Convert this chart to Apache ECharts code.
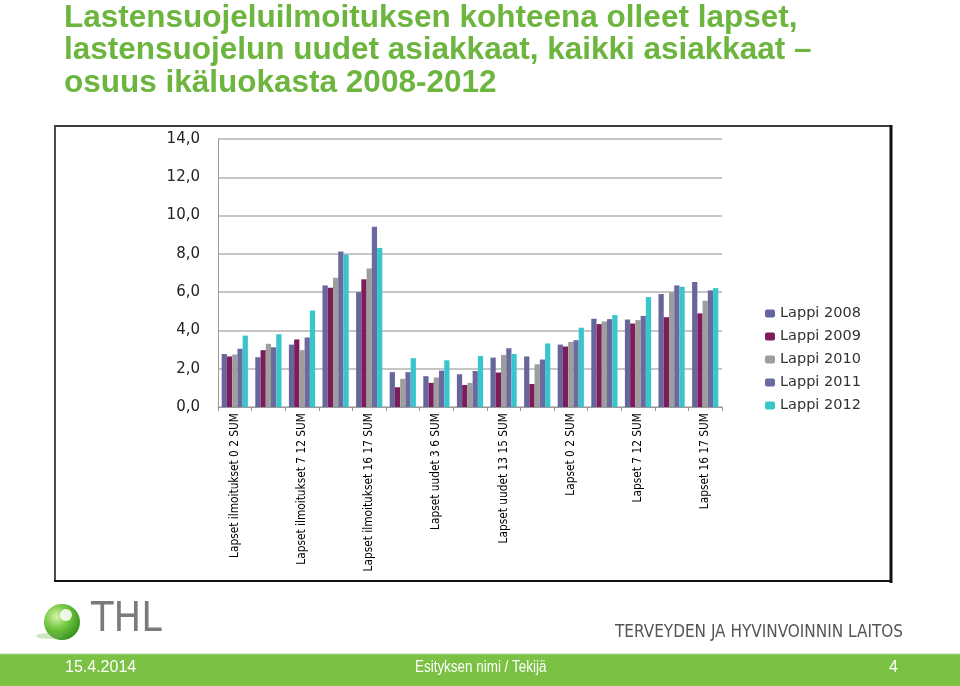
<!DOCTYPE html>
<html>
<head>
<meta charset="utf-8">
<script src="https://cdn.jsdelivr.net/npm/echarts@6/dist/echarts.min.js"></script>
<style>
html,body{margin:0;padding:0;background:#fff;}
#c{width:960px;height:686px;}
</style>
</head>
<body>
<div id="c"></div>
<script>
var categories = [
  'Lapset ilmoitukset 0 2 SUM','Lapset ilmoitukset 3 6 SUM','Lapset ilmoitukset 7 12 SUM',
  'Lapset ilmoitukset 13 15 SUM','Lapset ilmoitukset 16 17 SUM',
  'Lapset uudet 0 2 SUM','Lapset uudet 3 6 SUM','Lapset uudet 7 12 SUM',
  'Lapset uudet 13 15 SUM','Lapset uudet 16 17 SUM',
  'Lapset 0 2 SUM','Lapset 3 6 SUM','Lapset 7 12 SUM','Lapset 13 15 SUM','Lapset 16 17 SUM'
];
var seriesNames = ['Lappi 2008','Lappi 2009','Lappi 2010','Lappi 2011','Lappi 2012'];
var lappi2008 = [2.77, 2.60, 3.26, 6.35, 6.00, 1.82, 1.61, 1.71, 2.58, 2.64, 3.26, 4.61, 4.57, 5.90, 6.53];
var lappi2009 = [2.64, 2.97, 3.53, 6.23, 6.67, 1.03, 1.26, 1.15, 1.80, 1.20, 3.16, 4.33, 4.36, 4.69, 4.89];
var lappi2010 = [2.74, 3.30, 2.97, 6.75, 7.24, 1.47, 1.54, 1.26, 2.72, 2.23, 3.40, 4.47, 4.54, 6.00, 5.55];
var lappi2011 = [3.04, 3.12, 3.63, 8.12, 9.42, 1.82, 1.90, 1.88, 3.07, 2.48, 3.49, 4.59, 4.76, 6.35, 6.09];
var lappi2012 = [3.73, 3.80, 5.04, 7.96, 8.31, 2.55, 2.44, 2.67, 2.77, 3.32, 4.14, 4.80, 5.74, 6.28, 6.21];
var yTicks = [0, 2, 4, 6, 8, 10, 12, 14];

var colors = ['#66669c', '#7c1c5b', '#9e9e9e', '#6a6a9e', '#38c6cc'];
var allData = [lappi2008, lappi2009, lappi2010, lappi2011, lappi2012];

var chart = echarts.init(document.getElementById('c'), null, {renderer: 'canvas'});

var series = seriesNames.map(function (n, i) {
  return {
    name: n, type: 'bar', data: allData[i],
    barGap: '0%', barCategoryGap: '22%',
    itemStyle: {color: colors[i]}
  };
});

var option = {
  animation: false,
  backgroundColor: '#ffffff',
  title: {
    text: 'Lastensuojeluilmoituksen kohteena olleet lapset,\nlastensuojelun uudet asiakkaat, kaikki asiakkaat \u2013\nosuus ik\u00e4luokasta 2008-2012',
    left: 59, top: -3,
    textStyle: {
      fontFamily: 'Liberation Sans, Arial, sans-serif', fontSize: 31.5, fontWeight: 'bold',
      color: '#6cb53f', lineHeight: 32.5
    }
  },
  legend: {
    orient: 'vertical', left: 760, top: 301,
    itemWidth: 10, itemHeight: 8, itemGap: 8,
    data: seriesNames,
    textStyle: {fontFamily: 'DejaVu Sans, sans-serif', fontSize: 14.5, color: '#333', lineHeight: 15}
  },
  grid: {left: 218, right: 238, top: 139, bottom: 279, containLabel: false},
  xAxis: {
    type: 'category', data: categories,
    axisLine: {show: true, lineStyle: {color: '#9a9a9a', width: 1}},
    axisTick: {show: true, interval: 0, length: 4, lineStyle: {color: '#9a9a9a'}},
    axisLabel: {
      interval: 1, rotate: 90, margin: 6,
      fontFamily: 'Liberation Sans Narrow, DejaVu Sans Condensed, sans-serif', fontSize: 11.8, color: '#000'
    }
  },
  yAxis: {
    type: 'value', min: 0, max: 14, interval: 2,
    axisLine: {show: true, lineStyle: {color: '#9a9a9a', width: 1}},
    axisTick: {show: false},
    splitLine: {lineStyle: {color: '#b3b3b3', width: 1.5}},
    axisLabel: {
      margin: 18, color: '#222', fontFamily: 'DejaVu Sans, sans-serif', fontSize: 15,
      formatter: function (v) { return v.toFixed(1).replace('.', ','); }
    }
  },
  series: series,
  graphic: [
    // chart frame
    {type: 'line', shape: {x1: 54, y1: 126, x2: 892, y2: 126}, style: {stroke: '#3c3c3c', lineWidth: 2}, silent: true},
    {type: 'line', shape: {x1: 55, y1: 125, x2: 55, y2: 582}, style: {stroke: '#4a4a4a', lineWidth: 2}, silent: true},
    {type: 'line', shape: {x1: 891, y1: 125, x2: 891, y2: 583}, style: {stroke: '#111', lineWidth: 3}, silent: true},
    {type: 'line', shape: {x1: 54, y1: 581, x2: 892, y2: 581}, style: {stroke: '#111', lineWidth: 2}, silent: true},
    // THL logo sphere
    {type: 'circle', shape: {cx: 62, cy: 622, r: 18}, silent: true,
      style: {fill: new echarts.graphic.RadialGradient(0.35, 0.35, 0.75, [
        {offset: 0, color: '#d8f3a8'}, {offset: 0.5, color: '#6cc23a'}, {offset: 1, color: '#2f8a1c'}])}},
    {type: 'ellipse', shape: {cx: 50, cy: 636, rx: 14, ry: 3}, style: {fill: 'rgba(120,180,90,0.35)'}, silent: true},
    {type: 'circle', shape: {cx: 66, cy: 615, r: 6}, style: {fill: 'rgba(255,255,255,0.85)'}, silent: true},
    {type: 'text', left: 91, top: 600, silent: true,
      style: {text: 'THL', fill: '#7a7a7a', font: '41px "Liberation Sans Narrow", "DejaVu Sans Condensed", sans-serif'}},
    {type: 'text', left: 615, top: 624, silent: true,
      style: {text: 'TERVEYDEN JA HYVINVOINNIN LAITOS', fill: '#555', font: '17px "Liberation Sans Narrow", "DejaVu Sans Condensed", sans-serif'}},
    // green footer bar
    {type: 'rect', shape: {x: 0, y: 654, width: 960, height: 32}, style: {fill: '#7bc143'}, silent: true},
    {type: 'line', shape: {x1: 0, y1: 654, x2: 960, y2: 654}, style: {stroke: '#a9d98a', lineWidth: 1}, silent: true},
    {type: 'text', left: 65, top: 660, silent: true,
      style: {text: '15.4.2014', fill: '#fff', font: '16px "Liberation Sans", Arial, sans-serif'}},
    {type: 'text', x: 415, y: 660, scaleX: 0.84, silent: true,
      style: {text: 'Esityksen nimi / Tekij\u00e4', fill: '#fff', font: '16px "Liberation Sans", Arial, sans-serif'}},
    {type: 'text', left: 889, top: 660, silent: true,
      style: {text: '4', fill: '#fff', font: '16px "Liberation Sans", Arial, sans-serif'}}
  ]
};
chart.setOption(option);
</script>
</body>
</html>
